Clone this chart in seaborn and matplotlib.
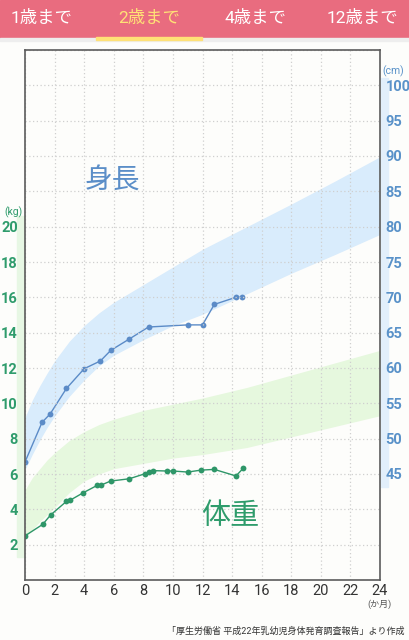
import matplotlib
matplotlib.use("Agg")
import matplotlib.pyplot as plt
from matplotlib.patches import Rectangle
import seaborn as sns

# tabs in the header
tab_labels = ["1歳まで", "2歳まで", "4歳まで", "12歳まで"]
active_tab = 1

# reference bands (months -> cm / kg)
band_months = [0, 0.5, 1, 1.5, 2, 3, 4, 5, 6, 8, 10, 12, 15, 18, 21, 24]
height_hi = [53.0, 55.5, 57.5, 59.3, 61.0, 63.8, 66.0, 67.8, 69.3, 71.8, 74.3, 76.8, 80.0, 83.2, 86.5, 89.9]
height_lo = [45.6, 47.8, 49.8, 51.6, 53.2, 56.0, 58.3, 60.3, 61.8, 64.0, 66.0, 67.6, 70.5, 73.4, 76.1, 78.9]
weight_hi = [5.1, 5.8, 6.3, 6.8, 7.2, 7.9, 8.4, 8.8, 9.1, 9.6, 9.95, 10.3, 10.9, 11.6, 12.3, 13.0]
weight_lo = [2.4, 2.85, 3.3, 3.7, 4.1, 4.95, 5.6, 6.0, 6.3, 6.6, 6.9, 7.1, 7.5, 8.1, 8.7, 9.3]

# measured values
h_months = [0, 1.15, 1.7, 2.8, 4.0, 5.1, 5.8, 7.05, 8.35, 11.0, 12.0, 12.8, 14.25, 14.7]
h_cm = [46.7, 52.3, 53.5, 57.1, 59.9, 61.0, 62.5, 64.1, 65.8, 66.1, 66.1, 69.0, 70.0, 70.0]
w_months = [0, 1.2, 1.73, 2.8, 3.04, 3.94, 4.89, 5.16, 5.79, 7.05, 8.13, 8.4, 8.67,
            9.57, 10.0, 11.0, 11.9, 12.8, 14.26, 14.75]
w_kg = [2.5, 3.15, 3.68, 4.45, 4.51, 4.94, 5.36, 5.38, 5.6, 5.73, 6.02, 6.13, 6.19,
        6.17, 6.17, 6.11, 6.22, 6.26, 5.89, 6.32]

month_ticks = list(range(0, 25, 2))
kg_ticks = list(range(0, 31, 2))
kg_labels = [str(v) if 2 <= v <= 20 else "" for v in kg_ticks]
cm_ticks = list(range(45, 101, 5))

BLUE = "#5b8bc7"
GREEN = "#2e9668"
PINK = "#e96c7f"
YELLOW = "#ffe176"

sns.set_theme(style="white")
plt.rcParams["font.family"] = ["Roboto", "Noto Sans CJK JP", "DejaVu Sans"]

W, H = 410, 640
fig = plt.figure(figsize=(4.1, 6.4), dpi=100, facecolor="#fdfdfb")


def fx(px):
    return px / W


def fy(py):
    return 1 - py / H


ax = fig.add_axes([fx(25), fy(580), fx(380) - fx(25), fy(50) - fy(580)])
ax2 = ax.twinx()
ax.set_zorder(ax2.get_zorder() + 1)
ax.patch.set_visible(False)
ax2.patch.set_facecolor("#fffef7")

# height (cm) on the twin axis
ax2.fill_between(band_months, height_lo, height_hi, color="#d9ecfc", linewidth=0, zorder=0.2)
sns.lineplot(x=h_months, y=h_cm, ax=ax2, color=BLUE, marker="o", markersize=4.2,
             markeredgewidth=0, linewidth=1.0, estimator=None, sort=False)
ax2.set_ylim(30, 105)
ax2.set_yticks(cm_ticks)
ax2.set_yticklabels([str(v) for v in cm_ticks], color="#5a92c9", fontsize=10.5,
                    fontweight="bold")
ax2.tick_params(axis="y", length=0, pad=4)
for s in ax2.spines.values():
    s.set_visible(False)

# weight (kg) on the main axis
ax.fill_between(band_months, weight_lo, weight_hi, color="#e6f8de", linewidth=0, zorder=0.2)
sns.lineplot(x=w_months, y=w_kg, ax=ax, color=GREEN, marker="o", markersize=4.2,
             markeredgewidth=0, linewidth=1.0, estimator=None, sort=False)
ax.set_xlim(0, 24)
ax.set_ylim(0, 30)
ax.set_xticks(month_ticks)
ax.set_xticklabels([str(v) for v in month_ticks], color="#333333", fontsize=10.5)
ax.set_yticks(kg_ticks)
ax.set_yticklabels(kg_labels, color="#2f9c6c", fontsize=10.5, fontweight="bold")
ax.tick_params(axis="both", length=0)
ax.tick_params(axis="y", pad=5)
ax.tick_params(axis="x", pad=3)
ax.set_axisbelow(True)
ax.grid(True, color="#cfcfcf", linestyle=(0, (1, 2)), linewidth=0.9)
for s in ax.spines.values():
    s.set_visible(True)
    s.set_color("#5c5c5c")
    s.set_linewidth(1.2)

ax.text(5.9, 22.6, "身長", color="#5b8ec8", fontsize=20, ha="center", va="center")
ax.text(13.9, 3.6, "体重", color="#2f9c6c", fontsize=21, ha="center", va="center")

# light strips behind the axis labels
fig.patches.append(Rectangle((fx(17), fy(557)), fx(7), fy(216) - fy(557),
                             transform=fig.transFigure, color="#e7f7e4", zorder=-1))
fig.patches.append(Rectangle((fx(381), fy(487)), fx(7), fy(78) - fy(487),
                             transform=fig.transFigure, color="#e2effb", zorder=-1))
fig.text(fx(13), fy(212), "(kg)", color="#2f9c6c", fontsize=7.5, ha="center", va="center")
fig.text(fx(393), fy(71), "(cm)", color="#5a92c9", fontsize=7.5, ha="center", va="center")

# header bar
fig.patches.append(Rectangle((0, fy(38)), 1, 38 / H, transform=fig.transFigure,
                             color=PINK, zorder=1))
fig.patches.append(Rectangle((0, fy(41)), 1, 3 / H, transform=fig.transFigure,
                             color="#eeeeee", zorder=1))
tab_x = [42, 149, 255, 362]
for i, (lab, x) in enumerate(zip(tab_labels, tab_x)):
    fig.text(fx(x), fy(18), lab, color=YELLOW if i == active_tab else "white",
             fontsize=12.5, ha="center", va="center", zorder=2)
fig.patches.append(Rectangle((fx(96), fy(40)), fx(106), 3 / H, transform=fig.transFigure,
                             color=YELLOW, zorder=2))

fig.text(fx(380), fy(604), "(か月)", color="#555555", fontsize=6.5, ha="center", va="center")
fig.text(fx(405), fy(631), "「厚生労働省 平成22年乳幼児身体発育調査報告」より作成",
         color="#333333", fontsize=6.5, ha="right", va="center")

fig.savefig("out.png", dpi=100, facecolor=fig.get_facecolor())
